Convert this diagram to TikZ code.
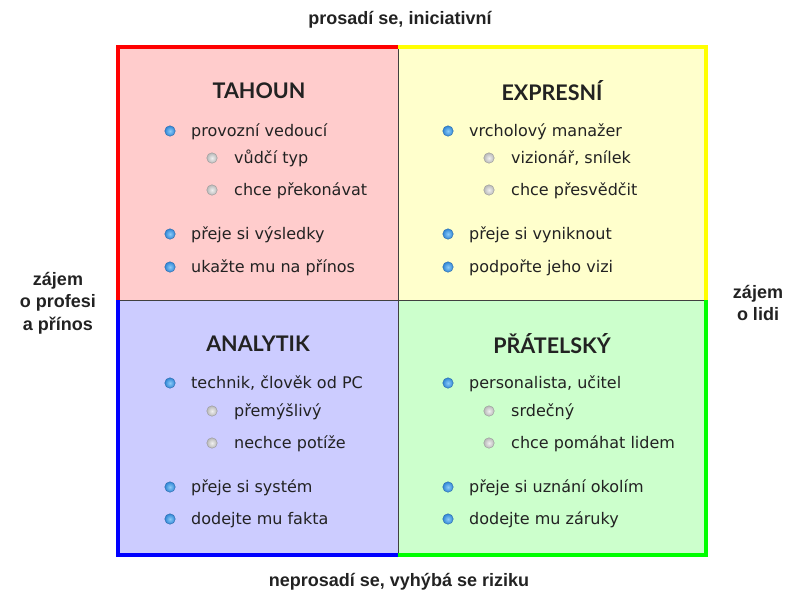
\documentclass[tikz,border=0pt]{standalone}
\usepackage{fontspec}
\setmainfont{DejaVu Sans}
\newfontfamily\titlefont{Lato}
\newfontfamily\sidefont{Liberation Sans}
\definecolor{qred}{HTML}{FFCCCC}
\definecolor{qyellow}{HTML}{FFFFCC}
\definecolor{qblue}{HTML}{CCCCFF}
\definecolor{qgreen}{HTML}{CCFFCC}
\definecolor{bred}{HTML}{FF0000}
\definecolor{byellow}{HTML}{FFFF00}
\definecolor{bblue}{HTML}{0000FF}
\definecolor{bgreen}{HTML}{00FF00}
\definecolor{txt}{HTML}{222222}
\definecolor{blin}{HTML}{8CCBF8}
\definecolor{blout}{HTML}{2F86D6}
\definecolor{bledge}{HTML}{2A68A8}
\definecolor{grin}{HTML}{F0F0F0}
\definecolor{grout}{HTML}{B8B8B8}
\definecolor{gredge}{HTML}{989898}
\begin{document}
\begin{tikzpicture}[x=1pt,y=-1pt,
  ttl/.style={font=\titlefont\bfseries\fontsize{21.5}{26}\selectfont, text=txt, inner sep=0pt},
  itm/.style={font=\fontsize{16}{19}\selectfont, text=txt, inner sep=0pt, anchor=base west},
  side/.style={font=\sidefont\bfseries\fontsize{18}{22.5}\selectfont, text=txt, align=center, inner sep=0pt},
  bb/.style={circle, inner sep=0pt, minimum size=10.5pt, inner color=blin, outer color=blout, draw=bledge, line width=0.4pt},
  gb/.style={circle, inner sep=0pt, minimum size=10.5pt, inner color=grin, outer color=grout, draw=gredge, line width=0.4pt},
  edge/.style={line width=3.5pt},
  divider/.style={line width=1pt, draw=black!75}]
\useasboundingbox (0,0) rectangle (787,594);
% quadrants
\fill[qred] (118,47) rectangle (398,300);
\fill[qyellow] (398,47) rectangle (706,300);
\fill[qblue] (118,300) rectangle (398,555);
\fill[qgreen] (398,300) rectangle (706,555);
\draw[divider] (398,47) -- (398,555);
\draw[divider] (118,300) -- (706,300);
\draw[edge, bred] (118,300) -- (118,47) -- (398,47);
\draw[edge, byellow] (398,47) -- (706,47) -- (706,300);
\draw[edge, bblue] (118,300) -- (118,555) -- (398,555);
\draw[edge, bgreen] (398,555) -- (706,555) -- (706,300);
% side labels
\node[side] (top) at (400,20) {prosadí se, iniciativní};
\node[side] (bottom) at (399,582) {neprosadí se, vyhýbá se riziku};
\node[side] (left) at (58,303) {zájem\\o profesi\\a přínos};
\node[side] (right) at (758,303) {zájem\\o lidi};
% titles
\node[ttl] (t1) at (259,91) {TAHOUN};
\node[ttl] (t2) at (552,91) {EXPRESNÍ};
\node[ttl] (t3) at (258,344) {ANALYTIK};
\node[ttl] (t4) at (552,344) {PŘÁTELSKÝ};
% TL items
\node[bb] (a1b) at (170,131) {}; \node[itm] (a1) at (191,136.5) {provozní vedoucí};
\node[gb] (a2b) at (212,158) {}; \node[itm] (a2) at (234,163.5) {vůdčí typ};
\node[gb] (a3b) at (212,190) {}; \node[itm] (a3) at (234,195.5) {chce překonávat};
\node[bb] (a4b) at (170,234) {}; \node[itm] (a4) at (191,239.5) {přeje si výsledky};
\node[bb] (a5b) at (170,267) {}; \node[itm] (a5) at (191,272.5) {ukažte mu na přínos};
% TR items
\node[bb] (b1b) at (448,131) {}; \node[itm] (b1) at (469,136.5) {vrcholový manažer};
\node[gb] (b2b) at (489,158) {}; \node[itm] (b2) at (511,163.5) {vizionář, snílek};
\node[gb] (b3b) at (489,190) {}; \node[itm] (b3) at (511,195.5) {chce přesvědčit};
\node[bb] (b4b) at (448,234) {}; \node[itm] (b4) at (469,239.5) {přeje si vyniknout};
\node[bb] (b5b) at (448,267) {}; \node[itm] (b5) at (469,272.5) {podpořte jeho vizi};
% BL items
\node[bb] (c1b) at (170,383) {}; \node[itm] (c1) at (191,388.5) {technik, člověk od PC};
\node[gb] (c2b) at (212,411) {}; \node[itm] (c2) at (234,416.5) {přemýšlivý};
\node[gb] (c3b) at (212,443) {}; \node[itm] (c3) at (234,448.5) {nechce potíže};
\node[bb] (c4b) at (170,487) {}; \node[itm] (c4) at (191,492.5) {přeje si systém};
\node[bb] (c5b) at (170,519) {}; \node[itm] (c5) at (191,524.5) {dodejte mu fakta};
% BR items
\node[bb] (d1b) at (448,383) {}; \node[itm] (d1) at (469,388.5) {personalista, učitel};
\node[gb] (d2b) at (489,411) {}; \node[itm] (d2) at (511,416.5) {srdečný};
\node[gb] (d3b) at (489,443) {}; \node[itm] (d3) at (511,448.5) {chce pomáhat lidem};
\node[bb] (d4b) at (448,487) {}; \node[itm] (d4) at (469,492.5) {přeje si uznání okolím};
\node[bb] (d5b) at (448,519) {}; \node[itm] (d5) at (469,524.5) {dodejte mu záruky};
\end{tikzpicture}
\end{document}
